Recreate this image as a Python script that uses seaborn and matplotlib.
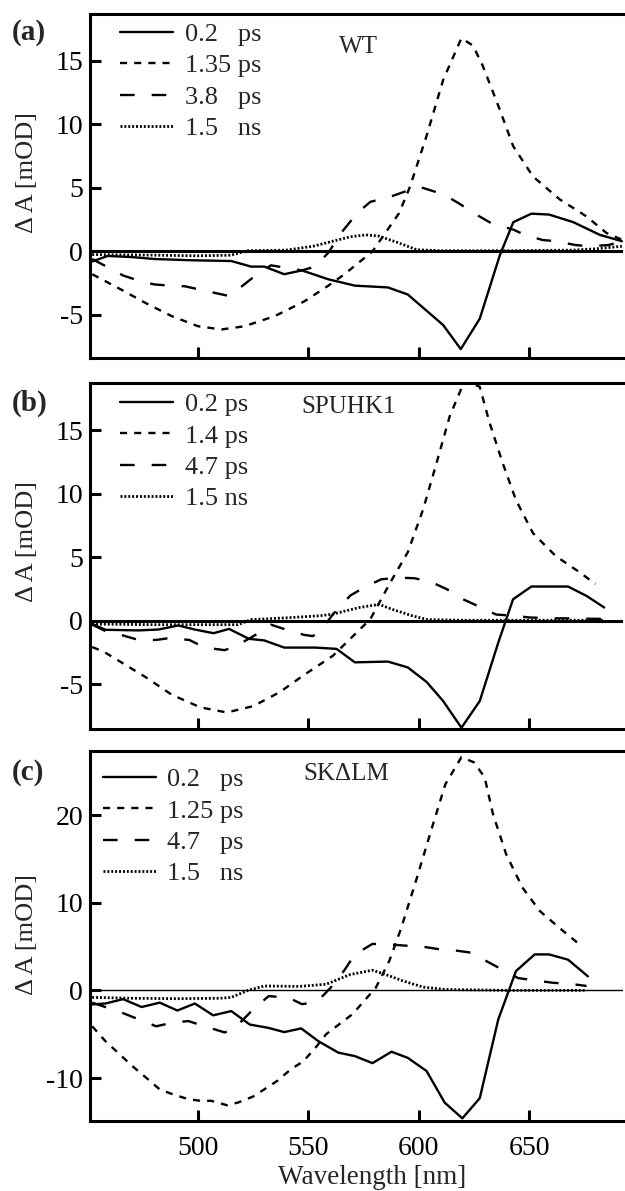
import matplotlib
matplotlib.use("Agg")
import matplotlib.pyplot as plt
import seaborn as sns

# ---------------- data ----------------
# Panel (a) WT
wt_02_x = [452, 459, 470, 480, 497, 515, 524, 530, 539, 547, 559, 571, 586, 595, 603, 611, 619, 627.6, 636.7, 642.8, 651, 659, 670, 682, 692]
wt_02_y = [-0.8, -0.36, -0.45, -0.6, -0.7, -0.76, -1.2, -1.2, -1.8, -1.5, -2.2, -2.7, -2.84, -3.4, -4.6, -5.8, -7.7, -5.3, -0.3, 2.3, 2.97, 2.9, 2.3, 1.3, 0.8]
wt_135_x = [452, 465, 476, 488, 500, 510.6, 521, 534.7, 548, 559, 566, 579, 591, 596, 603.5, 611, 619.3, 624.6, 629, 636.6, 642.7, 651.7, 663.8, 675.9, 685, 692]
wt_135_y = [-1.8, -3.0, -4.05, -5.1, -5.9, -6.15, -5.9, -5.1, -3.95, -2.7, -1.84, 0.0, 3.0, 5.1, 9.1, 13.5, 16.8, 16.2, 14.6, 11.2, 8.3, 5.9, 4.1, 2.76, 1.45, 0.92]
wt_38_x = [452, 466, 473, 480, 487, 494, 503, 513.6, 518, 526, 533, 540, 547, 553, 559, 565, 572, 578, 587, 600, 611, 618, 625, 633, 643, 648, 656, 662, 671, 677, 686, 692]
wt_38_y = [-0.6, -1.9, -2.3, -2.6, -2.7, -2.75, -3.1, -3.5, -3.0, -1.9, -1.1, -1.3, -1.5, -1.2, -0.1, 1.5, 3.0, 3.9, 4.3, 5.1, 4.5, 3.8, 3.0, 2.2, 1.7, 1.3, 0.9, 0.8, 0.5, 0.4, 0.5, 0.8]
wt_15n_x = [452, 480, 500, 515, 522, 540, 552, 561, 569, 576, 582, 591, 599, 610, 640, 670, 680, 692]
wt_15n_y = [-0.25, -0.3, -0.35, -0.3, 0.05, 0.1, 0.4, 0.8, 1.15, 1.3, 1.2, 0.66, 0.13, 0.05, 0.05, 0.1, 0.2, 0.4]

# Panel (b) SPUHK1
sp_02_x = [452, 458, 473, 482, 491, 498.5, 507, 514, 523, 530, 539, 546, 553, 562.7, 571, 586, 595, 603.5, 611, 619.3, 627.6, 636, 642.7, 651, 667.6, 676, 684]
sp_02_y = [-0.24, -0.7, -0.75, -0.68, -0.36, -0.68, -0.97, -0.63, -1.41, -1.54, -2.1, -2.1, -2.1, -2.2, -3.26, -3.2, -3.66, -4.8, -6.3, -8.4, -6.3, -1.7, 1.7, 2.7, 2.7, 1.96, 1.05]
sp_14_x = [452, 457, 465, 476, 488, 501, 513, 525, 537, 548, 561, 578, 587, 595, 602, 608, 614, 620.8, 627.6, 632, 638, 644, 651.7, 662, 673, 680]
sp_14_y = [-2.06, -2.4, -3.24, -4.4, -5.8, -6.8, -7.2, -6.7, -5.6, -4.25, -2.75, 0.13, 3.0, 5.4, 8.8, 12.4, 16.1, 18.9, 18.4, 15.6, 12.4, 9.5, 6.9, 5.1, 3.8, 2.9]
sp_47_x = [452, 458, 465, 473, 481, 487, 496, 503, 512, 517, 526, 533, 541, 548, 552, 556, 561, 569, 576, 583, 591, 598, 605, 612.6, 620, 628, 635, 643, 650, 660, 667, 684]
sp_47_y = [-0.3, -0.8, -1.1, -1.5, -1.5, -1.35, -1.5, -2.1, -2.3, -2.0, -1.1, -0.3, -0.75, -1.1, -1.2, -0.65, 0.5, 2.0, 2.7, 3.27, 3.4, 3.35, 3.1, 2.5, 1.7, 1.07, 0.5, 0.4, 0.27, 0.2, 0.2, 0.15]
sp_15n_x = [452, 480, 500, 518, 524, 540, 555, 561, 573, 582, 588, 597, 604, 620, 684]
sp_15n_y = [-0.25, -0.3, -0.3, -0.3, 0.1, 0.24, 0.4, 0.53, 1.05, 1.3, 0.9, 0.4, 0.1, 0.05, 0.05]

# Panel (c) SK-delta-LM
sk_02_x = [452, 458, 466, 474.4, 482.6, 490.6, 498.5, 506.8, 515, 523.4, 531.7, 539, 546.7, 554.5, 563.5, 571, 579, 587.6, 595, 603.5, 611.7, 619.7, 627.6, 636, 644, 652.5, 659, 667.6, 676.6]
sk_02_y = [-1.6, -1.5, -1.0, -1.9, -1.4, -2.3, -1.5, -2.85, -2.36, -3.9, -4.27, -4.76, -4.34, -5.8, -7.1, -7.5, -8.3, -7.0, -7.7, -9.2, -12.8, -14.6, -12.3, -3.3, 2.2, 4.1, 4.1, 3.5, 1.6]
sk_125_x = [452, 458, 464.5, 470, 476.6, 482.6, 489, 495.5, 501, 506, 513, 518, 525, 536, 542, 547.6, 553, 558, 570, 580.5, 586.6, 592, 598.7, 606, 612, 619.3, 625, 629.8, 633.6, 639.6, 647, 654.8, 663.8, 672]
sk_125_y = [-4.1, -5.8, -7.3, -8.6, -10.0, -11.3, -11.9, -12.4, -12.6, -12.6, -13.1, -12.8, -12.1, -10.3, -9.0, -8.1, -6.6, -5.0, -2.7, 0.3, 3.35, 7.1, 12.5, 18.6, 23.5, 26.6, 26.0, 24.3, 20.1, 15.5, 11.7, 9.05, 7.1, 5.4]
sk_47_x = [452, 465, 473, 481, 488, 495.5, 503, 512, 516.6, 525.6, 532, 541, 547, 552, 556.6, 560, 566, 571, 579, 585.5, 594, 600, 609, 615, 623.7, 630.5, 639, 645, 654.8, 660.6, 670, 676]
sk_47_y = [-1.4, -2.5, -3.3, -4.1, -3.7, -3.5, -4.1, -4.8, -4.3, -2.0, -0.65, -0.84, -1.57, -1.4, -0.6, 0.3, 2.2, 4.1, 5.3, 5.25, 5.1, 5.05, 4.7, 4.6, 4.3, 3.35, 2.2, 1.4, 1.06, 0.87, 0.7, 0.5]
sk_15n_x = [452, 470, 490, 510, 515, 522.6, 530, 546, 558, 568.8, 579, 585, 593, 602, 612, 640, 676]
sk_15n_y = [-0.8, -0.9, -0.95, -0.9, -0.8, 0.0, 0.5, 0.45, 0.7, 1.8, 2.3, 1.8, 1.06, 0.37, 0.1, 0.0, 0.0]

labels_a = ["0.2   ps", "1.35 ps", "3.8   ps", "1.5   ns"]
labels_b = ["0.2 ps", "1.4 ps", "4.7 ps", "1.5 ns"]
labels_c = ["0.2   ps", "1.25 ps", "4.7   ps", "1.5   ns"]

panels = [
    dict(tag="(a)", name="WT", labels=labels_a,
         series=[(wt_02_x, wt_02_y), (wt_135_x, wt_135_y), (wt_38_x, wt_38_y), (wt_15n_x, wt_15n_y)]),
    dict(tag="(b)", name="SPUHK1", labels=labels_b,
         series=[(sp_02_x, sp_02_y), (sp_14_x, sp_14_y), (sp_47_x, sp_47_y), (sp_15n_x, sp_15n_y)]),
    dict(tag="(c)", name="SK\u0394LM", labels=labels_c,
         series=[(sk_02_x, sk_02_y), (sk_125_x, sk_125_y), (sk_47_x, sk_47_y), (sk_15n_x, sk_15n_y)]),
]
y_ticks = [[-5, 0, 5, 10, 15], [-5, 0, 5, 10, 15], [-10, 0, 10, 20]]
y_lims = [(-8.4, 18.7), (-8.5, 18.7), (-14.9, 27.3)]
x_ticks = [500, 550, 600, 650]
x_lim = (451, 692.5)

# ---------------- style ----------------
sns.set_style("ticks")
plt.rcParams["font.family"] = ["Liberation Serif", "DejaVu Serif"]
plt.rcParams["font.size"] = 19
plt.rcParams["axes.unicode_minus"] = False

FIG_W, FIG_H = 625, 1191
fig = plt.figure(figsize=(FIG_W / 100, FIG_H / 100), dpi=100)

def box(left, top, right, bottom):
    return [left / FIG_W, 1 - bottom / FIG_H, (right - left) / FIG_W, (bottom - top) / FIG_H]

boxes = [box(90, 14, 623, 358), box(90, 383, 623, 729), box(90, 751, 623, 1121)]
zero_lw = [2.2, 2.2, 1.0]
lw = 1.7
styles = [None, (3.0, 3.0), (6.2, 7.2), (0.7, 0.7)]
line_widths = [lw, lw, lw, 2.0]
leg_anchor = [(0.056, 0.975), (0.056, 0.972), (0.024, 0.955)]
name_pos = [(0.504, 0.905), (0.486, 0.932), (0.481, 0.937)]
ylab_y = [0.54, 0.543, 0.503]
tag_y = [32, 403, 773]

for i, p in enumerate(panels):
    ax = fig.add_axes(boxes[i])
    ax.axhline(0, color="black", lw=zero_lw[i], zorder=1)
    handles = []
    for (xs, ys), ls, w, lab in zip(p["series"], styles, line_widths, p["labels"]):
        sns.lineplot(x=xs, y=ys, ax=ax, color="black", lw=w, estimator=None, sort=False, zorder=3)
        ln = ax.lines[-1]
        if ls is not None:
            ln.set_dashes(ls)
        ln.set_label(lab)
        handles.append(ln)
    ax.set_xlim(*x_lim)
    ax.set_ylim(*y_lims[i])
    ax.set_xticks(x_ticks)
    ax.set_yticks(y_ticks[i])
    for s in ["left", "top", "bottom"]:
        ax.spines[s].set_linewidth(2.2)
        ax.spines[s].set_color("black")
    ax.spines["right"].set_visible(False)
    ax.tick_params(axis="both", direction="in", length=8, width=2.2, colors="black", labelsize=20)
    ax.tick_params(axis="y", pad=5)
    ax.tick_params(axis="x", pad=11)
    ax.tick_params(top=False, right=False)
    if i < 2:
        ax.set_xticklabels([])
    else:
        ax.set_xlabel("Wavelength [nm]", fontsize=19.5)
        ax.xaxis.set_label_coords(0.529, -0.118)
    ax.set_ylabel("\u0394 A [mOD]", fontsize=19)
    ax.yaxis.set_label_coords(-0.118, ylab_y[i])
    ax.yaxis.label.set_va("center")
    ax.legend(handles=handles, labels=p["labels"], loc="upper left",
              bbox_to_anchor=leg_anchor[i], frameon=False, fontsize=19,
              handlelength=2.0, handletextpad=0.45, labelspacing=0.3,
              borderaxespad=0, borderpad=0)
    ax.text(name_pos[i][0], name_pos[i][1], p["name"], transform=ax.transAxes,
            ha="center", va="center", fontsize=18)
    fig.text(12 / FIG_W, 1 - tag_y[i] / FIG_H, p["tag"], ha="left", va="center",
             fontsize=21, fontweight="bold")

fig.savefig("out.png", dpi=100)
